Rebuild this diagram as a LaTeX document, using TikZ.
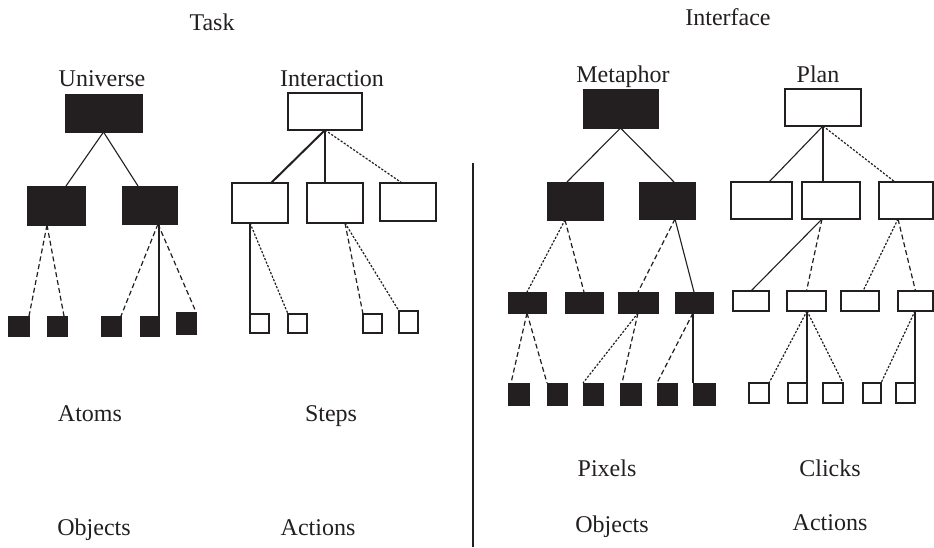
\documentclass[tikz,border=0pt]{standalone}
\usepackage{fontspec}
\setmainfont{Liberation Serif}
\definecolor{boxblack}{RGB}{35,31,32}
\newcommand\mkbox[6]{\node[#1, minimum width={#4-#3}, minimum height={#6-#5}] (#2) at ({(#3+#4)/2},{(#5+#6)/2}) {};}
\begin{document}
\begin{tikzpicture}[x=1pt,y=-1pt,
  blk/.style={fill=boxblack, draw=boxblack, line width=1pt, inner sep=0pt, outer sep=0pt, rectangle},
  opn/.style={fill=white, draw=boxblack, line width=1.3pt, inner sep=0pt, outer sep=0pt, rectangle},
  lbl/.style={font=\fontsize{24}{27}\selectfont, anchor=base, inner sep=0pt, text=boxblack},
  ln/.style={draw=boxblack, line width=1.1pt},
  thk/.style={draw=boxblack, line width=2pt},
  dsh/.style={draw=boxblack, line width=1.2pt, dash pattern=on 5pt off 3pt},
  dts/.style={draw=boxblack, line width=1.2pt, dash pattern=on 2.2pt off 1.6pt}]
\useasboundingbox (0,0) rectangle (934,547);
\fill[white] (0,0) rectangle (934,547);

% ---------- titles and labels ----------
\node[lbl] (task) at (212,30) {Task};
\node[lbl] (iface) at (728,25) {Interface};
\node[lbl] (tuniv) at (102,86) {Universe};
\node[lbl] (tinter) at (332,86) {Interaction};
\node[lbl] (tmeta) at (623,82) {Metaphor};
\node[lbl] (tplan) at (818,82) {Plan};
\node[lbl] (tatoms) at (90,421) {Atoms};
\node[lbl] (tsteps) at (331,421) {Steps};
\node[lbl] (tobj1) at (94,535) {Objects};
\node[lbl] (tact1) at (318,535) {Actions};
\node[lbl] (tpix) at (607,476) {Pixels};
\node[lbl] (tclk) at (830,476) {Clicks};
\node[lbl] (tobj2) at (612,532) {Objects};
\node[lbl] (tact2) at (830,530) {Actions};

% ---------- divider ----------
\coordinate (dtop) at (473,163);
\coordinate (dbot) at (473,547);
\draw[draw=boxblack, line width=1.3pt] (dtop) -- (dbot);

% ---------- Universe tree ----------
\mkbox{blk}{u}{65}{142}{94}{132}
\mkbox{blk}{l1}{27}{85}{186}{225}
\mkbox{blk}{l2}{122}{177}{186}{224}
\mkbox{blk}{a1}{8}{29}{316}{336}
\mkbox{blk}{a2}{47}{67}{316}{336}
\mkbox{blk}{a3}{101}{121}{316}{336}
\mkbox{blk}{a4}{140}{159}{316}{336}
\mkbox{blk}{a5}{176}{196}{312}{334}
\draw[ln] (u.south) -- ([xshift=10pt]l1.north);
\draw[ln] (u.south) -- ([xshift=-11.5pt]l2.north);
\draw[dsh] ([xshift=-9pt]l1.south) -- (a1.north east);
\draw[dsh] ([xshift=-9pt]l1.south) -- ([xshift=-3pt]a2.north east);
\draw[dsh] ([xshift=8.5pt]l2.south) -- (a3.north east);
\draw[ln] (a4.north east |- l2.south) -- (a4.north east);
\draw[dsh] ([xshift=8.5pt]l2.south) -- (a5.north east);

% ---------- Interaction tree ----------
\mkbox{opn}{i}{288}{362}{93}{130}
\mkbox{opn}{i1}{232}{288}{183}{223}
\mkbox{opn}{i2}{307}{363}{183}{223}
\mkbox{opn}{i3}{380}{436}{183}{221}
\mkbox{opn}{s1}{250}{269}{314}{333}
\mkbox{opn}{s2}{288}{307}{314}{333}
\mkbox{opn}{s3}{363}{382}{314}{333}
\mkbox{opn}{s4}{399}{418}{311}{333}
\draw[thk] (i.south) -- ([xshift=11pt]i1.north);
\draw[ln] (i.south) -- (i.south |- i2.north);
\draw[dts] (i.south) -- ([xshift=-6pt]i3.north);
\draw[ln] (s1.north west |- i1.south) -- (s1.north west);
\draw[dts] (s1.north west |- i1.south) -- (s2.north west);
\draw[dsh] ([xshift=10pt]i2.south) -- (s3.north west);
\draw[dts] ([xshift=10pt]i2.south) -- (s4.north west);

% ---------- Metaphor tree ----------
\mkbox{blk}{m}{583}{658}{89}{128}
\mkbox{blk}{m1}{547}{603}{182}{220}
\mkbox{blk}{m2}{639}{695}{182}{219}
\mkbox{blk}{ma}{508}{546}{292}{313}
\mkbox{blk}{mb}{565}{603}{292}{313}
\mkbox{blk}{mc}{618}{658}{292}{313}
\mkbox{blk}{md}{675}{713}{292}{313}
\mkbox{blk}{b1}{508}{529}{383}{405}
\mkbox{blk}{b2}{547}{567}{383}{405}
\mkbox{blk}{b3}{583}{603}{383}{405}
\mkbox{blk}{b4}{620}{641}{383}{405}
\mkbox{blk}{b5}{657}{677}{383}{405}
\mkbox{blk}{b6}{693}{715}{383}{405}
\draw[ln] (m.south) -- ([xshift=-8pt]m1.north);
\draw[ln] (m.south) -- ([xshift=7pt]m2.north);
\draw[dts] ([xshift=-10pt]m1.south) -- (ma.north);
\draw[dsh] ([xshift=-10pt]m1.south) -- (mb.north);
\draw[dsh] ([xshift=8pt]m2.south) -- (mc.north);
\draw[ln] ([xshift=8pt]m2.south) -- (md.north);
\draw[dsh] (ma.south) -- ([xshift=3pt]b1.north west);
\draw[dsh] (ma.south) -- (b2.north west);
\draw[dts] (mc.south) -- (b3.north west);
\draw[dsh] (mc.south) -- ([xshift=2pt]b4.north west);
\draw[dsh] (b6.north west |- md.south) -- (b5.north west);
\draw[ln] (b6.north west |- md.south) -- (b6.north west);

% ---------- Plan tree ----------
\mkbox{opn}{p}{785}{861}{89}{126}
\mkbox{opn}{p1}{731}{792}{182}{219}
\mkbox{opn}{p2}{802}{860}{182}{219}
\mkbox{opn}{p3}{879}{933}{182}{219}
\mkbox{opn}{e}{733}{769}{291}{311}
\mkbox{opn}{f}{787}{826}{291}{311}
\mkbox{opn}{g}{841}{879}{291}{311}
\mkbox{opn}{h}{898}{933}{291}{311}
\mkbox{opn}{o1}{749}{769}{383}{403}
\mkbox{opn}{o2}{788}{807}{383}{403}
\mkbox{opn}{o3}{823}{843}{383}{403}
\mkbox{opn}{o4}{863}{881}{383}{403}
\mkbox{opn}{o5}{896}{915}{383}{403}
\draw[ln] (p.south) -- ([xshift=7.5pt]p1.north);
\draw[ln] (p.south) -- (p.south |- p2.north);
\draw[dts] (p.south) -- ([xshift=-11pt]p3.north);
\draw[ln] ([xshift=-9pt]p2.south) -- (e.north);
\draw[dsh] ([xshift=-9pt]p2.south) -- (f.north);
\draw[dts] ([xshift=-8pt]p3.south) -- ([xshift=3pt]g.north);
\draw[dsh] ([xshift=-8pt]p3.south) -- (h.north);
\draw[dts] (o2.north east |- f.south) -- (o1.north east);
\draw[ln] (o2.north east |- f.south) -- (o2.north east);
\draw[dts] (o2.north east |- f.south) -- (o3.north east);
\draw[dts] (o5.north east |- h.south) -- (o4.north east);
\draw[ln] (o5.north east |- h.south) -- (o5.north east);
\end{tikzpicture}
\end{document}
